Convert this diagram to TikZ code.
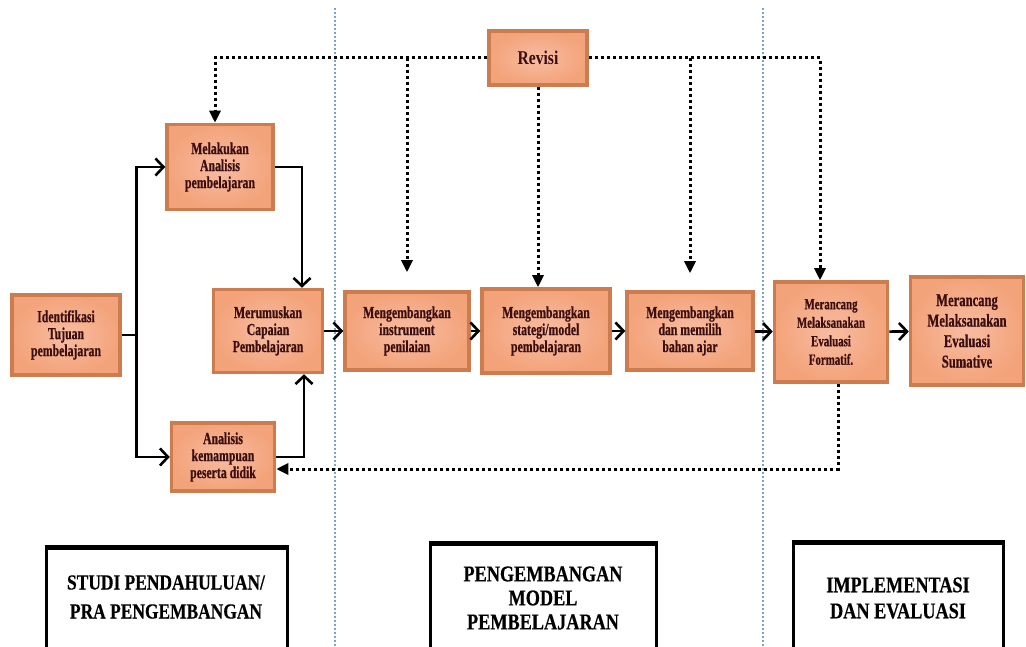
\documentclass[tikz,border=0pt]{standalone}
\usepackage{fontspec}
\usetikzlibrary{arrows.meta}
\newfontfamily\boxfont[FakeStretch=0.7, BoldFeatures={FakeBold=0.6}]{Liberation Serif}
\newfontfamily\phasefont[FakeStretch=0.81, BoldFeatures={FakeBold=0.4}]{Liberation Serif}
\newfontfamily\revfont[FakeStretch=0.8]{Liberation Serif}
\definecolor{boxfill}{RGB}{243,163,122}
\definecolor{boxcore}{RGB}{248,188,162}
\definecolor{boxline}{RGB}{204,124,78}
\definecolor{boxtext}{RGB}{58,14,14}
\definecolor{divline}{RGB}{120,165,195}
\tikzset{
	stepbox/.style={draw=boxline, line width=3.5pt, inner color=boxcore, outer color=boxfill, text=boxtext, align=center, inner sep=2pt, font=\boxfont\bfseries\fontsize{16.8}{17}\selectfont},
	flow/.style={line width=2.6pt, -{Straight Barb[length=8pt,width=17pt]}},
	backline/.style={line width=3pt, dash pattern=on 3pt off 3pt, -{Triangle[length=12pt,width=11pt]}},
	divider/.style={divline, line width=1.8pt, dash pattern=on 1.8pt off 2.2pt},
	phasebox/.style={line width=3pt},
	phasetext/.style={align=center, font=\phasefont\bfseries\fontsize{22.5}{24}\selectfont}
}
\begin{document}
\begin{tikzpicture}[x=1pt, y=-1pt]
	\useasboundingbox (0,0) rectangle (1026,647);

	\draw[divider] (335,8) -- (335,647);
	\draw[divider] (763,8) -- (763,647);

	\node[stepbox, minimum width=98, minimum height=54, font=\revfont\bfseries\fontsize{19.5}{21}\selectfont] (revisi) at (538,58) {Revisi};
	\node[stepbox, minimum width=106, minimum height=85] (analisis) at (220,167) {Melakukan\\Analisis\\pembelajaran};
	\node[stepbox, minimum width=108, minimum height=80] (identifikasi) at (66,335) {Identifikasi\\Tujuan\\pembelajaran};
	\node[stepbox, minimum width=109, minimum height=83] (merumuskan) at (268,331) {Merumuskan\\Capaian\\Pembelajaran};
	\node[stepbox, minimum width=103, minimum height=68] (kemampuan) at (223,457) {Analisis\\kemampuan\\peserta didik};
	\node[stepbox, minimum width=124, minimum height=78] (instrumen) at (407,331) {Mengembangkan\\instrument\\penilaian};
	\node[stepbox, minimum width=128, minimum height=84] (strategi) at (546,331) {Mengembangkan\\stategi/model\\pembelajaran};
	\node[stepbox, minimum width=126, minimum height=78] (bahan) at (690,331) {Mengembangkan\\dan memilih\\bahan ajar};
	\node[stepbox, minimum width=113, minimum height=100, font=\boxfont\bfseries\fontsize{15.5}{18.5}\selectfont] (formatif) at (831,332) {Merancang\\Melaksanakan\\Evaluasi\\Formatif.};
	\node[stepbox, minimum width=113, minimum height=108, font=\boxfont\bfseries\fontsize{18}{20.5}\selectfont] (sumatif) at (967,331) {Merancang\\Melaksanakan\\Evaluasi\\Sumative};

	\draw[flow] (identifikasi.east) -- ++(15,0) coordinate (split) |- (kemampuan.west);
	\draw[flow] (split) |- (analisis.west);
	\draw[flow] (analisis.east) -| ([xshift=34]merumuskan.north);
	\draw[flow] (kemampuan.east) -| ([xshift=36]merumuskan.south);
	\draw[flow] (merumuskan) -- (instrumen);
	\draw[flow] (instrumen) -- (strategi);
	\draw[flow] (strategi) -- (bahan);
	\draw[flow] (bahan) -- (formatif);
	\draw[flow] (formatif) -- (sumatif);

	\draw[backline] (revisi.west) -| ([xshift=-5]analisis.north);
	\draw[backline, shorten >=18pt] (revisi.west -| instrumen.north) -- (instrumen.north);
	\draw[backline] (revisi.south) -- (revisi.south |- strategi.north);
	\draw[backline] (revisi.east) -| ([xshift=-11]formatif.north);
	\draw[backline, shorten >=17pt] (revisi.east -| bahan.north) -- (bahan.north);
	\draw[backline] ([xshift=7]formatif.south) |- ([yshift=-12]kemampuan.east);

	\draw[phasebox] (46,660) -- (46,547) -- (287,547) -- (287,660);
	\draw[line width=5pt] (44.5,547) -- (288.5,547);
	\draw[phasebox] (430,660) -- (430,543) -- (656,543) -- (656,660);
	\draw[line width=5pt] (428.5,543) -- (657.5,543);
	\draw[phasebox] (793,660) -- (793,542) -- (1003,542) -- (1003,660);
	\draw[line width=5pt] (791.5,542) -- (1004.5,542);

	\node[phasetext, font=\phasefont\bfseries\fontsize{21.5}{29}\selectfont] (studi) at (166,597) {STUDI PENDAHULUAN/\\PRA PENGEMBANGAN};
	\node[phasetext] (pengembangan) at (543,598) {PENGEMBANGAN\\MODEL\\PEMBELAJARAN};
	\node[phasetext, font=\phasefont\bfseries\fontsize{22.5}{26}\selectfont] (implementasi) at (898,598) {IMPLEMENTASI\\DAN EVALUASI};
\end{tikzpicture}
\end{document}
